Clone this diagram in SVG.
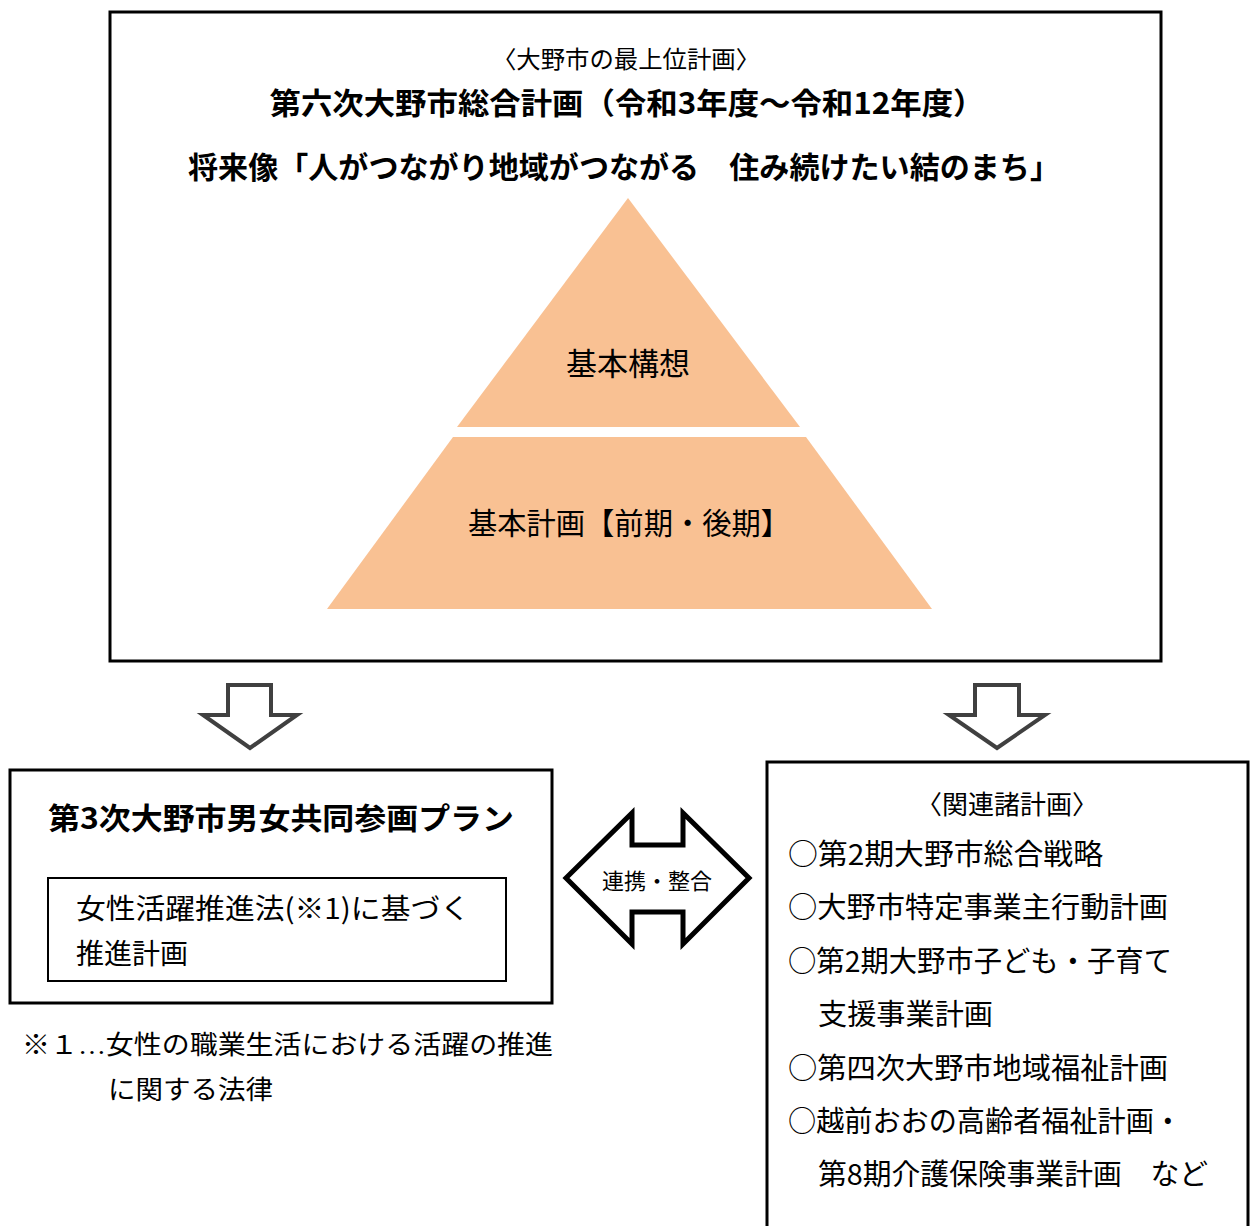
<svg xmlns="http://www.w3.org/2000/svg" width="1250" height="1226" viewBox="0 0 1250 1226">
<style>
.g{font-family:"Noto Sans CJK JP","Noto Sans",sans-serif;fill:#000}
.b{font-weight:bold}
.m{font-family:"Liberation Serif","Noto Sans CJK JP",serif;fill:#000}
.box{fill:#fff;stroke:#000;stroke-width:3}
.pyr{fill:#f9c193}
.dn{fill:#fff;stroke:#404040;stroke-width:4;stroke-linejoin:miter}
</style>
<rect width="1250" height="1226" fill="#fff"/>
<g id="top-plan">
<rect class="box" x="110" y="12" width="1051" height="649"/>
<text class="g" x="626" y="68" font-size="24" text-anchor="middle" textLength="268" lengthAdjust="spacingAndGlyphs">〈大野市の最上位計画〉</text>
<text class="g b" x="627" y="114" font-size="30" text-anchor="middle" textLength="715" lengthAdjust="spacingAndGlyphs">第六次大野市総合計画（令和3年度～令和12年度）</text>
<text class="g b" x="624" y="178" font-size="30" text-anchor="middle" textLength="872" lengthAdjust="spacingAndGlyphs">将来像「人がつながり地域がつながる　住み続けたい結のまち」</text>
</g>
<g id="pyramid-top">
<polygon class="pyr" points="628,198 800,427 457,427"/>
<text class="g" x="628" y="375" font-size="31" text-anchor="middle">基本構想</text>
</g>
<g id="pyramid-bottom">
<polygon class="pyr" points="453,437 806,437 932,609 327,609"/>
<text class="g" x="629" y="534" font-size="30" text-anchor="middle" textLength="322" lengthAdjust="spacingAndGlyphs">基本計画【前期・後期】</text>
</g>
<g id="connectors">
<polygon class="dn" points="228,685 271,685 271,715 297,715 250,748 203,715 228,715"/>
<polygon class="dn" points="975,685 1019,685 1019,715 1045,715 997,748 949,715 975,715"/>
<polygon fill="#fff" stroke="#000" stroke-width="5" stroke-linejoin="miter" points="566,878 632,813 632,845 683,845 683,813 749,878 683,944 683,912 632,912 632,944"/>
<text class="g" x="657" y="889" font-size="22" text-anchor="middle">連携・整合</text>
</g>
<g id="gender-plan">
<rect class="box" x="10" y="770" width="542" height="233"/>
<text class="g b" x="281" y="829" font-size="30" text-anchor="middle" textLength="466" lengthAdjust="spacingAndGlyphs">第3次大野市男女共同参画プラン</text>
</g>
<g id="promotion-plan">
<rect x="48" y="878" width="458" height="103" fill="#fff" stroke="#000" stroke-width="2"/>
<text class="g" x="76" y="919" font-size="28" textLength="394" lengthAdjust="spacingAndGlyphs">女性活躍推進法(※1)に基づく</text>
<text class="g" x="76" y="964" font-size="28">推進計画</text>
</g>
<g id="footnote">
<text class="m" x="22" y="1054" font-size="26" textLength="531" lengthAdjust="spacingAndGlyphs">※１…女性の職業生活における活躍の推進</text>
<text class="m" x="108" y="1099" font-size="26" textLength="165" lengthAdjust="spacingAndGlyphs">に関する法律</text>
</g>
<g id="related-plans">
<rect class="box" x="767" y="762" width="481" height="470"/>
<text class="g" x="1007" y="814" font-size="26" text-anchor="middle">〈関連諸計画〉</text>
<text class="g" x="788" y="865" font-size="29" textLength="315" lengthAdjust="spacingAndGlyphs">○第2期大野市総合戦略</text>
<text class="g" x="788" y="918" font-size="29" textLength="380" lengthAdjust="spacingAndGlyphs">○大野市特定事業主行動計画</text>
<text class="g" x="788" y="972" font-size="29" textLength="384" lengthAdjust="spacingAndGlyphs">○第2期大野市子ども・子育て</text>
<text class="g" x="818" y="1025" font-size="29" textLength="175" lengthAdjust="spacingAndGlyphs">支援事業計画</text>
<text class="g" x="788" y="1079" font-size="29" textLength="380" lengthAdjust="spacingAndGlyphs">○第四次大野市地域福祉計画</text>
<text class="g" x="788" y="1132" font-size="29" textLength="394" lengthAdjust="spacingAndGlyphs">○越前おおの高齢者福祉計画・</text>
<text class="g" x="818" y="1185" font-size="29" textLength="390" lengthAdjust="spacingAndGlyphs">第8期介護保険事業計画　など</text>
</g>
</svg>
